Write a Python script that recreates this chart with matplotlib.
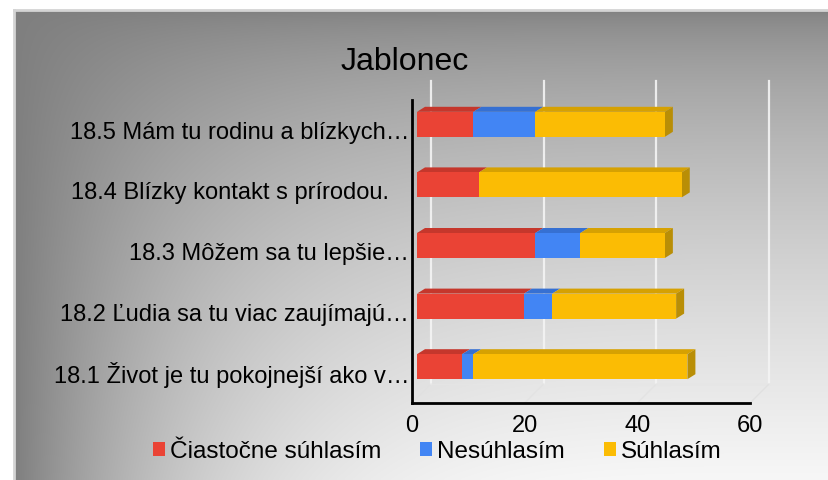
import numpy as np
import matplotlib
matplotlib.use("Agg")
import matplotlib.pyplot as plt
from matplotlib.patches import Polygon
from matplotlib.transforms import offset_copy

plt.rcParams['font.family'] = ['Liberation Sans', 'DejaVu Sans']

title = "Jablonec"
questions = [
    "18.1 Život je tu pokojnejší ako v…",
    "18.2 Ľudia sa tu viac zaujímajú…",
    "18.3 Môžem sa tu lepšie…",
    "18.4 Blízky kontakt s prírodou.   ",
    "18.5 Mám tu rodinu a blízkych…",
]
series_names = ["Čiastočne súhlasím", "Nesúhlasím", "Súhlasím"]
ciastocne = [8, 19, 21, 11, 10]
nesuhlasim = [2, 5, 8, 0, 11]
suhlasim = [38, 22, 15, 36, 23]
xticks = [0, 20, 40, 60]

front_col = ["#EA4335", "#4285F4", "#FBBC04"]
top_col = ["#C5372C", "#3670D2", "#D6A102"]
side_col = "#B98E06"

W, H = 829, 480
fig = plt.figure(figsize=(W / 100, H / 100), dpi=100, facecolor="white")

# gray gradient panel, dark along the top and left, light towards bottom-right
bg = fig.add_axes([14 / W, 0, 1 - 14 / W, 1 - 10 / H])
u = np.linspace(0, 1, 400)[None, :]
v = np.linspace(0, 1, 240)[:, None]
shade = (127 + 120 * (1 - (1 - u) ** 4) * v ** 0.6) / 255.0
bg.imshow(np.dstack([shade] * 3), aspect="auto", extent=[0, 1, 0, 1],
          origin="upper", interpolation="bilinear")
bg.set_xlim(0, 1)
bg.set_ylim(0, 1)
bg.set_xticks([])
bg.set_yticks([])
for s in ["right", "bottom"]:
    bg.spines[s].set_visible(False)
for s in ["left", "top"]:
    bg.spines[s].set_color("#d4d4d4")
    bg.spines[s].set_linewidth(2)

ax = fig.add_axes([412 / W, 77 / H, 338 / W, 303 / H])
ax.patch.set_alpha(0)
ax.set_xlim(0, 60)
ax.set_ylim(-0.5, len(questions) - 0.5)

# back wall gridlines and floor, pushed back in depth
back = offset_copy(ax.transData, fig=fig, x=19, y=19, units="dots")
y0, y1 = ax.get_ylim()
for t in xticks:
    ax.plot([t, t], [y0, y1], color="#f4f4f4", lw=1.6, alpha=0.9,
            transform=back, clip_on=False, zorder=1)
ax.plot([0, 60], [y0, y0], color="#e6e6e6", lw=1, alpha=0.6,
        transform=back, clip_on=False, zorder=1)

# 3-D bars: front face shifted half into the depth, then top and side faces
front = offset_copy(ax.transData, fig=fig, x=5, y=6, units="dots")
pxx = ax.transData.transform((1, 0))[0] - ax.transData.transform((0, 0))[0]
pxy = ax.transData.transform((0, 1))[1] - ax.transData.transform((0, 0))[1]
ddx, ddy = 8 / pxx, 5 / pxy
bh = 25 / pxy

ypos = np.arange(len(questions))
left = np.zeros(len(questions))
handles = []
for k, vals in enumerate([ciastocne, nesuhlasim, suhlasim]):
    vals = np.array(vals, dtype=float)
    bars = ax.barh(ypos, vals, left=left, height=bh, color=front_col[k],
                   transform=front, clip_on=False, zorder=3,
                   label=series_names[k])
    handles.append(bars)
    for i in range(len(questions)):
        if vals[i] <= 0:
            continue
        l, r = left[i], left[i] + vals[i]
        t = ypos[i] + bh / 2
        ax.add_patch(Polygon([(l, t), (r, t), (r + ddx, t + ddy), (l + ddx, t + ddy)],
                             closed=True, facecolor=top_col[k], edgecolor="none",
                             transform=front, clip_on=False, zorder=2))
    left = left + vals

# right side face of each stacked bar
for i in range(len(questions)):
    r = left[i]
    b, t = ypos[i] - bh / 2, ypos[i] + bh / 2
    ax.add_patch(Polygon([(r, b), (r, t), (r + ddx, t + ddy), (r + ddx, b + ddy)],
                         closed=True, facecolor=side_col, edgecolor="none",
                         transform=front, clip_on=False, zorder=2))

# floor edges running into the depth
for t in xticks:
    ax.plot([t, t + 19 / pxx], [y0, y0 + 19 / pxy], color="#e0e0e0", lw=1,
            alpha=0.6 if t < 60 else 0.9, clip_on=False, zorder=1)

for s in ["top", "right"]:
    ax.spines[s].set_visible(False)
for s in ["left", "bottom"]:
    ax.spines[s].set_color("black")
    ax.spines[s].set_linewidth(2)
    ax.spines[s].set_zorder(4)

ax.set_xticks(xticks)
ax.set_xticklabels([str(t) for t in xticks])
ax.set_yticks(ypos)
ax.set_yticklabels(questions)
ax.tick_params(axis="x", length=0, pad=9, labelsize=17, colors="black")
ax.tick_params(axis="y", length=0, pad=2, labelsize=17, colors="black")

fig.text(405 / W, 1 - 62 / H, title, ha="center", va="center", fontsize=23)

fig.legend(handles=handles, labels=series_names, loc="center",
           bbox_to_anchor=(437 / W, 1 - 452 / H), ncol=3, frameon=False,
           fontsize=17.5, handlelength=0.5, handleheight=0.5,
           handletextpad=0.2, columnspacing=1.6, borderpad=0)

fig.savefig("out.png", dpi=100, facecolor=fig.get_facecolor())
